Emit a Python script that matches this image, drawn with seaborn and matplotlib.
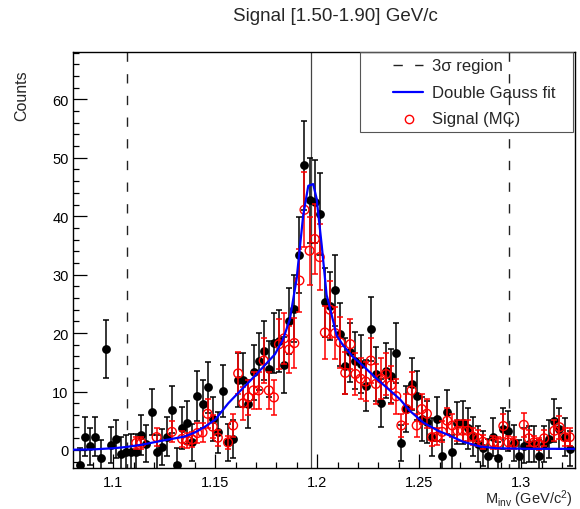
import numpy as np
import pandas as pd
import matplotlib
matplotlib.use("Agg")
import matplotlib.pyplot as plt
import seaborn as sns
from matplotlib.patches import Rectangle
from matplotlib.lines import Line2D
from matplotlib.ticker import MultipleLocator

#--------------------------------------------------------------------------------
# Data (bins of 2.5 MeV, first drawn bin is the 2nd one)
#--------------------------------------------------------------------------------
bin_lo = 1.0800
bin_width = 0.0025
first_bin = 1

black_counts = [-2.6, 2.3, 0.6, 2.3, -1.3, 17.3, 0.9, 1.9, -0.7, -0.4,
                -0.3, -0.3, 2.6, 1.1, 6.5, -0.4, 0.5, 2.3, 6.9, -2.6,
                3.8, 4.7, 1.3, 9.2, 7.8, 10.7, 5.3, 3.0, 10.1, 1.3,
                1.9, 12.0, 12.0, 7.9, 13.3, 15.2, 17.0, 13.9, 18.3, 18.7,
                14.5, 22.1, 24.2, 33.3, 48.7, 42.7, 42.5, 40.4, 25.3, 24.7,
                27.3, 19.8, 14.3, 16.7, 15.3, 14.7, 11.0, 20.7, 13.0, 8.0,
                13.6, 12.7, 16.6, 1.2, 7.0, 11.3, 9.3, 5.3, 4.8, 2.2,
                5.3, -1.1, 6.5, -0.3, 4.6, 4.7, 3.7, 2.3, 1.0, 0.3,
                -1.0, 2.2, -1.4, 3.6, 3.3, 1.2, -1.1, 0.7, 1.0, 1.0,
                -1.1, 1.0, 1.9, 5.0, 3.6, 2.2, 0.2]
black_err = [3.0, 3.3, 3.1, 3.4, 3.0, 4.9, 3.1, 3.3, 3.0, 3.0,
             3.0, 3.1, 3.4, 3.2, 4.0, 3.0, 3.1, 3.4, 4.0, 2.9,
             3.6, 3.7, 3.2, 4.3, 4.1, 4.4, 3.8, 3.5, 4.4, 3.2,
             3.3, 4.6, 4.6, 4.1, 4.7, 4.9, 5.1, 4.8, 5.2, 5.3,
             4.8, 5.6, 5.8, 6.5, 7.6, 7.2, 7.1, 7.0, 5.9, 5.8,
             6.1, 5.4, 4.8, 5.1, 4.9, 4.9, 4.4, 5.5, 4.7, 4.1,
             4.7, 4.6, 5.1, 3.1, 3.9, 4.5, 4.2, 3.7, 3.6, 3.2,
             3.7, 2.8, 3.8, 2.9, 3.6, 3.6, 3.5, 3.3, 3.1, 3.0,
             2.8, 3.2, 2.8, 3.5, 3.4, 3.1, 2.8, 3.0, 3.1, 3.1,
             2.8, 3.1, 3.2, 3.7, 3.5, 3.2, 3.0]

nan = np.nan
mc_counts = [nan, nan, nan, nan, nan, nan, nan, nan, nan, nan,
             nan, 1.2, 1.2, nan, nan, 2.2, nan, nan, 3.1, nan,
             1.9, 1.6, 1.8, 2.9, 3.0, 6.2, 4.0, 2.1, nan, 1.3,
             4.2, 13.1, 8.0, 9.0, 10.2, 10.2, 15.3, 10.2, 9.0, 18.1,
             19.1, 17.2, 18.3, 29.0, 41.1, 34.1, 36.1, 33.0, 20.1, 24.0,
             20.0, 18.4, 13.2, 18.1, 13.0, 12.2, 11.7, 15.3, 11.3, 12.2,
             13.0, 11.1, 9.2, 4.2, 7.0, 10.2, 4.2, 7.0, 6.2, 2.2,
             2.3, 3.1, 5.0, 4.2, 3.3, 3.3, 3.3, 2.3, 2.0, 1.4,
             nan, 1.3, 1.2, 4.1, 1.3, 1.2, nan, 4.3, 2.0, 1.3,
             1.0, 2.0, nan, 3.3, 3.9, 2.2, 2.2]
mc_err = [nan, nan, nan, nan, nan, nan, nan, nan, nan, nan,
          nan, 1.1, 1.1, nan, nan, 1.5, nan, nan, 1.8, nan,
          1.4, 1.3, 1.3, 1.7, 1.7, 2.5, 2.0, 1.4, nan, 1.1,
          2.0, 3.6, 2.8, 3.0, 3.2, 3.2, 3.9, 3.2, 3.0, 4.3,
          4.4, 4.1, 4.3, 5.4, 6.4, 5.8, 6.0, 5.7, 4.5, 4.9,
          4.5, 4.3, 3.6, 4.3, 3.6, 3.5, 3.4, 3.9, 3.4, 3.5,
          3.6, 3.3, 3.0, 2.0, 2.6, 3.2, 2.0, 2.6, 2.5, 1.5,
          1.5, 1.8, 2.2, 2.0, 1.8, 1.8, 1.8, 1.5, 1.4, 1.2,
          nan, 1.1, 1.1, 2.0, 1.1, 1.1, nan, 2.1, 1.4, 1.1,
          1.0, 1.4, nan, 1.8, 2.0, 1.5, 1.5]

# double gauss fit curve
fit_x = [1.0800, 1.0900, 1.1000, 1.1060, 1.1140, 1.1240, 1.1350, 1.1400,
         1.1450, 1.1500, 1.1564, 1.1597, 1.1695, 1.1793, 1.1833, 1.1866,
         1.1899, 1.1931, 1.1956, 1.1980, 1.1997, 1.2022, 1.2046, 1.2066,
         1.2095, 1.2127, 1.2176, 1.2225, 1.2291, 1.2356, 1.2405, 1.2454,
         1.2520, 1.2592, 1.2634, 1.2716, 1.2798, 1.2879, 1.3042, 1.3262]
fit_y = [0.05, 0.1, 0.3, 0.5, 0.9, 1.6, 2.3, 3.0,
         4.0, 5.2, 8.0, 9.2, 12.7, 16.4, 19.0, 22.4,
         29.3, 40.1, 45.2, 45.5, 43.0, 35.0, 26.5, 23.8,
         19.6, 17.9, 15.9, 14.4, 12.2, 10.2, 8.7, 6.7,
         4.7, 3.3, 2.7, 1.4, 0.6, 0.3, 0.2, 0.2]

mass_mean = 1.1967
region_lo = 1.1066
region_hi = 1.2940

x_range = (1.0801, 1.3262)
y_range = (-3.08, 68.1)

title = "Signal [1.50-1.90] GeV/c"
legend_labels = ["3\u03c3 region", "Double Gauss fit", "Signal (MC)"]

#--------------------------------------------------------------------------------
# Style
#--------------------------------------------------------------------------------
sns.set_style("ticks")
plt.rcParams["font.family"] = ["Liberation Sans", "DejaVu Sans"]
plt.rcParams["mathtext.fontset"] = "custom"
plt.rcParams["mathtext.rm"] = "Liberation Sans"
plt.rcParams["mathtext.it"] = "Liberation Sans:italic"

centers = bin_lo + bin_width * (np.arange(len(black_counts)) + first_bin + 0.5)
df = pd.DataFrame({"x": centers, "data": black_counts, "data_err": black_err,
                   "mc": mc_counts, "mc_err": mc_err})

fig = plt.figure(figsize=(5.8, 5.1), dpi=100)
ax = fig.add_axes([0.1253, 0.0804, 0.8655, 0.8157])

# 3 sigma region and mean
dash = (6.7, 8.9)
ax.axvline(region_lo, ymin=1, ymax=0, color="#222222", lw=1.0, dashes=dash)
ax.axvline(region_hi, ymin=1, ymax=0, color="#222222", lw=1.0, dashes=dash)
ax.axvline(mass_mean, color="#444444", lw=0.9)

# data (black)
ax.errorbar(df["x"], df["data"], yerr=df["data_err"], fmt="none", ecolor="black",
            elinewidth=1.1, capsize=2.3, capthick=1.1, zorder=3)
sns.scatterplot(data=df, x="x", y="data", ax=ax, color="black", s=40,
                edgecolor="black", linewidth=0, zorder=4)

# signal MC (red open)
mc = df.dropna(subset=["mc"])
ax.errorbar(mc["x"], mc["mc"], yerr=mc["mc_err"], fmt="none", ecolor="red",
            elinewidth=1.1, capsize=2.3, capthick=1.1, zorder=5)
sns.scatterplot(data=mc, x="x", y="mc", ax=ax, marker="o", s=40,
                facecolor="none", edgecolor="red", linewidth=1.0, zorder=6)

# fit
sns.lineplot(x=fit_x, y=fit_y, ax=ax, color="blue", lw=1.6, estimator=None,
             sort=False, zorder=7)

ax.set_xlim(*x_range)
ax.set_ylim(*y_range)
ax.set_xlabel("")
ax.set_ylabel("")
ax.xaxis.set_major_locator(MultipleLocator(0.05))
ax.xaxis.set_minor_locator(MultipleLocator(0.01))
ax.yaxis.set_major_locator(MultipleLocator(10))
ax.yaxis.set_minor_locator(MultipleLocator(2))
ax.xaxis.set_major_formatter(matplotlib.ticker.FuncFormatter(lambda v, p: f"{v:g}"))
ax.tick_params(which="both", direction="in", top=False, right=False, width=0.9,
               colors="black", labelsize=10.5)
ax.tick_params(which="major", length=10)
ax.tick_params(which="minor", length=4.5)
ax.tick_params(axis="x", pad=5)
ax.tick_params(axis="y", pad=3)
for s in ax.spines.values():
    s.set_visible(True)
    s.set_color("black")
    s.set_linewidth(1.0)

# legend: transparent box with handles
leg_box = Rectangle((0.5723, 0.8077), 0.4243, 0.1923, transform=ax.transAxes,
                    facecolor="none", edgecolor="#555555", lw=0.8, zorder=8)
ax.add_patch(leg_box)
rows = [0.968, 0.9038, 0.8397]
ax.add_line(Line2D([0.638, 0.6978], [rows[0], rows[0]], transform=ax.transAxes,
                   color="#222222", lw=1.0, dashes=dash, zorder=9))
ax.add_line(Line2D([0.638, 0.6978], [rows[1], rows[1]], transform=ax.transAxes,
                   color="blue", lw=1.6, zorder=9))
ax.add_line(Line2D([0.670], [rows[2]], transform=ax.transAxes, marker="o", ms=6,
                   mfc="none", mec="red", mew=1.0, ls="none", zorder=9))
for r, lab in zip(rows, legend_labels):
    ax.text(0.7157, r, lab, transform=ax.transAxes, ha="left", va="center",
            fontsize=12, zorder=9)

fig.text(0.579, 0.968, title, ha="center", va="center", fontsize=13.5)
fig.text(0.988, 0.021, r"M$_{\mathrm{inv}}$ (GeV/c$^{2}$)", ha="right",
         va="center", fontsize=10.5)
fig.text(0.038, 0.862, "Counts", rotation=90, ha="center", va="top", fontsize=11.5)

fig.savefig("out.png", dpi=100)
